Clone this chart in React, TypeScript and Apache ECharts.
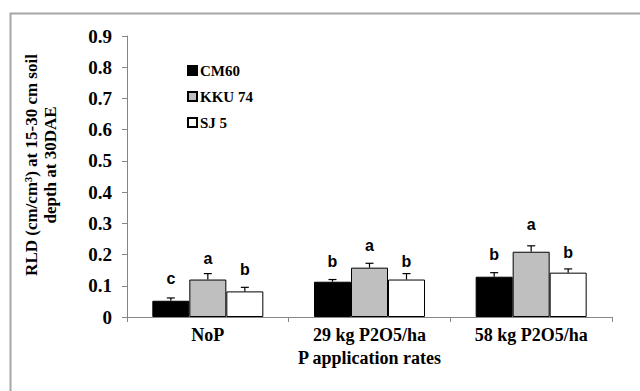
import React, { useEffect, useRef } from "react";
import * as echarts from "echarts";

const categories = ["NoP", "29 kg P2O5/ha", "58 kg P2O5/ha"];
const seriesNames = ["CM60", "KKU 74", "SJ 5"];
const cm60 = [0.052, 0.113, 0.129];
const kku74 = [0.12, 0.158, 0.209];
const sj5 = [0.082, 0.12, 0.142];
const cm60Err = [0.009, 0.007, 0.013];
const kku74Err = [0.019, 0.014, 0.019];
const sj5Err = [0.013, 0.019, 0.012];
const cm60Letters = ["c", "b", "b"];
const kku74Letters = ["a", "a", "a"];
const sj5Letters = ["b", "b", "b"];
const cm60LetterAt = [0.122, 0.177, 0.201];
const kku74LetterAt = [0.186, 0.229, 0.297];
const sj5LetterAt = [0.151, 0.177, 0.207];
const yTicks = [0, 0.1, 0.2, 0.3, 0.4, 0.5, 0.6, 0.7, 0.8, 0.9];

const SERIF = "'Liberation Serif', 'Times New Roman', serif";
const SANS = "'Liberation Sans', Arial, sans-serif";
const BAR_W = 37;

export default function App() {
  const ref = useRef<HTMLDivElement>(null);
  useEffect(() => {
    if (!ref.current) return;
    const chart = echarts.init(ref.current, null, { renderer: "svg" });
    const values = [cm60, kku74, sj5];
    const errs = [cm60Err, kku74Err, sj5Err];
    const letters = [cm60Letters, kku74Letters, sj5Letters];
    const letterAt = [cm60LetterAt, kku74LetterAt, sj5LetterAt];
    const fills = ["#000000", "#bfbfbf", "#ffffff"];

    const bars = seriesNames.map((name, s) => ({
      type: "bar",
      name,
      data: values[s],
      barWidth: BAR_W,
      barGap: "0%",
      itemStyle: { color: fills[s], borderColor: "#000", borderWidth: 1 },
    }));

    const errSeries = seriesNames.map((name, s) => ({
      type: "custom",
      name: name + " err",
      z: 5,
      data: categories.map((c, i) => [i, values[s][i], values[s][i] + errs[s][i], letterAt[s][i]]),
      renderItem: (params: any, api: any) => {
        const idx = api.value(0);
        const offset = (s - 1) * BAR_W;
        const base = api.coord([idx, api.value(1)]);
        const top = api.coord([idx, api.value(2)]);
        const lab = api.coord([idx, api.value(3)]);
        const x = base[0] + offset;
        return {
          type: "group",
          children: [
            { type: "line", shape: { x1: x, y1: base[1], x2: x, y2: top[1] }, style: { stroke: "#000", lineWidth: 1.2 } },
            { type: "line", shape: { x1: x - 4, y1: top[1], x2: x + 4, y2: top[1] }, style: { stroke: "#000", lineWidth: 1.2 } },
            {
              type: "text",
              x: x,
              y: lab[1],
              style: {
                text: letters[s][params.dataIndex],
                font: "bold 16px " + SANS,
                fill: "#000",
                align: "center",
                verticalAlign: "middle",
              },
            },
          ],
        };
      },
    }));

    chart.setOption({
      animation: false,
      backgroundColor: "#fff",
      grid: { left: 127, right: 28, top: 36, bottom: 74 },
      legend: {
        data: seriesNames,
        orient: "vertical",
        left: 187,
        top: 63,
        padding: 0,
        itemWidth: 9,
        itemHeight: 9,
        itemGap: 11,
        icon: "rect",
        textStyle: { fontFamily: SERIF, fontWeight: "bold", fontSize: 15, color: "#000", padding: [0, 0, 0, -2] },
      },
      xAxis: {
        type: "category",
        data: categories,
        axisLine: { lineStyle: { color: "#868686", width: 1 } },
        axisTick: { show: true, length: 5, lineStyle: { color: "#868686" } },
        axisLabel: { fontFamily: SERIF, fontWeight: "bold", fontSize: 18, color: "#000", margin: 9 },
        name: "P application rates",
        nameLocation: "middle",
        nameGap: 30,
        nameTextStyle: { fontFamily: SERIF, fontWeight: "bold", fontSize: 18, color: "#000" },
      },
      yAxis: {
        type: "value",
        min: yTicks[0],
        max: yTicks[yTicks.length - 1],
        interval: 0.1,
        splitLine: { show: false },
        axisLine: { show: true, lineStyle: { color: "#868686", width: 1 } },
        axisTick: { show: true, length: 5, lineStyle: { color: "#868686" } },
        axisLabel: {
          fontFamily: SERIF,
          fontWeight: "bold",
          fontSize: 19,
          color: "#000",
          margin: 15,
          formatter: (v: number) => String(Math.round(v * 10) / 10),
        },
      },
      graphic: [
        {
          type: "rect",
          shape: { x: 10.5, y: 13.5, width: 700, height: 500 },
          style: { fill: "none", stroke: "#a6a6a6", lineWidth: 2 },
          silent: true,
        },
        {
          type: "text",
          x: 31,
          y: 165,
          rotation: Math.PI / 2,
          style: {
            text: "RLD (cm/cm³) at 15-30 cm soil",
            font: "bold 17px " + SERIF,
            fill: "#000",
            align: "center",
            verticalAlign: "middle",
          },
        },
        {
          type: "text",
          x: 50,
          y: 165,
          rotation: Math.PI / 2,
          style: {
            text: "depth at 30DAE",
            font: "bold 17px " + SERIF,
            fill: "#000",
            align: "center",
            verticalAlign: "middle",
          },
        },
      ],
      series: [...bars, ...errSeries],
    });
    return () => chart.dispose();
  }, []);
  return <div ref={ref} style={{ position: "fixed", left: 0, top: 0, width: 640, height: 391 }} />;
}
